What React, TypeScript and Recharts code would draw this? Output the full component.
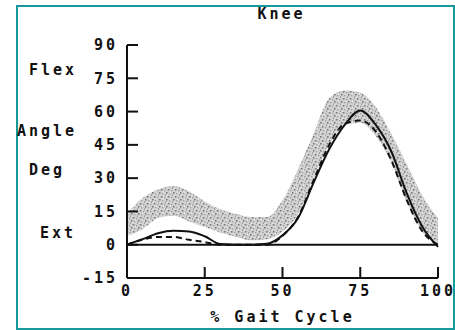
import {
  ComposedChart,
  Area,
  Line,
  XAxis,
  YAxis,
  ReferenceLine,
} from "recharts";

// % of gait cycle sampled every 5%
const PCT = [0, 5, 10, 15, 20, 25, 30, 35, 40, 45, 50, 55, 60, 65, 70, 75, 80, 85, 90, 95, 100];

// normal range (grey band)
const BAND_LO = [4, 7, 12, 13, 10.5, 8, 5.5, 3.5, 2, 2.5, 6, 14, 30, 45, 54, 55, 49, 37, 19, 6, 0];
const BAND_HI = [14, 21, 25, 26.5, 24, 19.5, 16, 14, 12.5, 12.5, 20, 34, 50, 66, 69.5, 68.5, 62, 50, 36, 22, 12];

// patient, solid and dashed
const SOLID = [0, 2.5, 5.2, 6.3, 6, 3.8, 0.3, 0, 0, 0.4, 4.2, 12, 28, 43, 54, 60.5, 54, 42, 23, 8, -1];
const DASHED = [0, 2.3, 3.5, 3.5, 2.2, 1.2, 0, 0, 0, 0, 4, 12.5, 29, 45, 54.5, 56, 51, 38, 20, 6, 0];

const X_TICKS = [0, 25, 50, 75, 100];
const Y_TICKS = [-15, 0, 15, 30, 45, 60, 75, 90];

const SIDE_LABELS = [
  { text: "Flex", left: 29, top: 61 },
  { text: "Angle", left: 17, top: 122 },
  { text: "Deg", left: 29, top: 161 },
  { text: "Ext", left: 40, top: 224 },
];

const FONT = "'DejaVu Sans Mono', monospace";
const INK = "#111";

const data = PCT.map((p, i) => ({
  pct: p,
  band: [BAND_LO[i], BAND_HI[i]],
  solid: SOLID[i],
  dashed: DASHED[i],
}));

const tickStyle = {
  fill: INK,
  fontSize: 15,
  fontFamily: FONT,
  fontWeight: 700,
  letterSpacing: 3,
};

export default function App() {
  return (
    <div
      style={{
        position: "absolute",
        left: 0,
        top: 0,
        width: 455,
        height: 330,
        background: "#fff",
        fontFamily: FONT,
      }}
    >
      <div
        style={{
          position: "absolute",
          left: 16,
          top: 5,
          width: 439,
          height: 325,
          boxSizing: "border-box",
          border: "2px solid #17989b",
        }}
      />
      <div
        style={{
          position: "absolute",
          left: 0,
          width: 563,
          top: 5,
          textAlign: "center",
          fontSize: 15,
          fontWeight: 700,
          letterSpacing: 3,
          color: INK,
        }}
      >
        Knee
      </div>
      {SIDE_LABELS.map((l) => (
        <div
          key={l.text}
          style={{
            position: "absolute",
            left: l.left,
            top: l.top,
            fontSize: 15,
            fontWeight: 700,
            letterSpacing: 3,
            color: INK,
          }}
        >
          {l.text}
        </div>
      ))}
      <ComposedChart
        width={455}
        height={330}
        data={data}
        margin={{ top: 45, right: 17, bottom: 22, left: 67 }}
        style={{ position: "absolute", left: 0, top: 0 }}
      >
        <defs>
          <pattern id="stipple" width="7" height="7" patternUnits="userSpaceOnUse">
            <rect width="7" height="7" fill="#d2d2d2" />
            <rect x="0" y="0" width="1.5" height="1.5" fill="#7a7a7a" />
            <rect x="3" y="1" width="1.3" height="1.3" fill="#9a9a9a" />
            <rect x="5" y="3" width="1.5" height="1.5" fill="#707070" />
            <rect x="1" y="4" width="1.3" height="1.3" fill="#a0a0a0" />
            <rect x="4" y="5.5" width="1.3" height="1.3" fill="#868686" />
            <rect x="6" y="0.5" width="1" height="1" fill="#b0b0b0" />
            <rect x="2" y="2.5" width="1" height="1" fill="#eeeeee" />
            <rect x="5.5" y="6" width="1" height="1" fill="#f2f2f2" />
          </pattern>
        </defs>
        <XAxis
          dataKey="pct"
          type="number"
          domain={[0, 100]}
          ticks={X_TICKS}
          interval={0}
          axisLine={{ stroke: INK, strokeWidth: 2 }}
          tickLine={{ stroke: INK, strokeWidth: 2 }}
          tickSize={-11}
          tickMargin={18}
          tick={tickStyle}
          label={{
            value: "% Gait Cycle",
            position: "bottom",
            offset: 3,
            style: { ...tickStyle, textAnchor: "middle" },
          }}
        />
        <YAxis
          type="number"
          domain={[-15, 90]}
          ticks={Y_TICKS}
          interval={0}
          width={60}
          axisLine={{ stroke: INK, strokeWidth: 2 }}
          tickLine={{ stroke: INK, strokeWidth: 2 }}
          tickSize={-11}
          tickMargin={20}
          tick={tickStyle}
        />
        <Area
          type="monotone"
          dataKey="band"
          stroke="none"
          fill="url(#stipple)"
          fillOpacity={1}
          isAnimationActive={false}
        />
        <ReferenceLine y={0} stroke={INK} strokeWidth={2} />
        <Line
          type="monotone"
          dataKey="dashed"
          stroke={INK}
          strokeWidth={2}
          strokeDasharray="6 4"
          dot={false}
          activeDot={false}
          isAnimationActive={false}
        />
        <Line
          type="monotone"
          dataKey="solid"
          stroke={INK}
          strokeWidth={2}
          dot={false}
          activeDot={false}
          isAnimationActive={false}
        />
      </ComposedChart>
    </div>
  );
}
